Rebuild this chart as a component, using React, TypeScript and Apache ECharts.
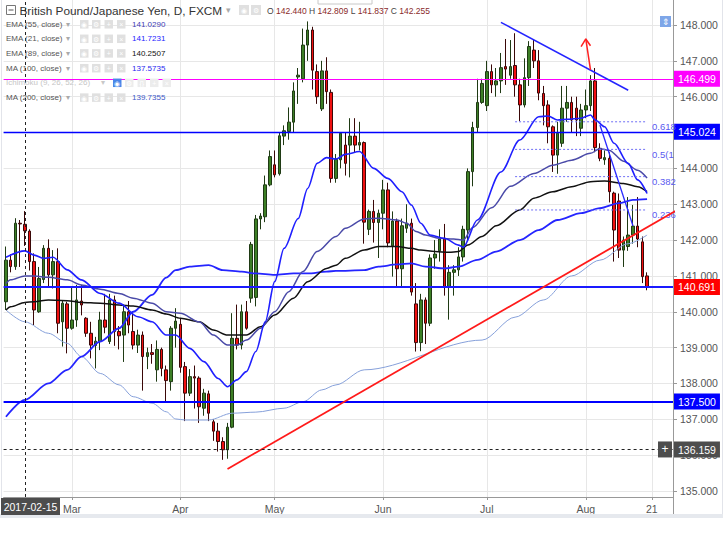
import React, { useEffect, useRef } from "react";
import * as echarts from "echarts";

const FONT = "'Liberation Sans', Arial, Helvetica, sans-serif";

function tradingDays(from: string, to: string): string[] {
  const out: string[] = [];
  const d = new Date(from + "T00:00:00Z");
  const end = new Date(to + "T00:00:00Z");
  while (d <= end) {
    const w = d.getUTCDay();
    if (w !== 0 && w !== 6) out.push(d.toISOString().slice(0, 10));
    d.setUTCDate(d.getUTCDate() + 1);
  }
  return out;
}

const categories = tradingDays("2017-02-09", "2017-08-25");

const opens = [
  140.28, 141.44, 141.26, 142.47, 142.44, 142.25, 141.4, 140.0, 140.9, 141.77,
  141.03, 141.4, 139.72, 140.22, 139.54, 139.77, 140.3, 139.82, 139.4, 139.06,
  139.17, 139.77, 139.17, 140.33, 139.45, 139.35, 140.0, 139.45, 139.07, 139.35,
  138.75, 138.86, 138.38, 138.95, 138.38, 138.05, 139.54, 139.65, 138.47, 137.73,
  138.19, 138.15, 137.31, 137.71, 136.93, 136.67, 136.38, 136.15, 136.78, 139.26,
  139.07, 140.0, 140.38, 140.4, 142.59, 142.65, 143.54, 144.1, 143.85, 144.9,
  145.03, 145.29, 146.55, 146.5, 147.44, 147.86, 146.7, 145.66, 146.72, 146.12,
  143.72, 144.24, 144.65, 144.65, 144.9, 144.65, 144.72, 142.3, 142.8, 142.49,
  142.75, 143.4, 141.84, 142.53, 141.2, 142.33, 142.47, 140.22, 139.14, 140.33,
  139.68, 141.5, 141.7, 142.03, 140.7, 141.1, 141.17, 141.53, 142.28, 143.91,
  145.14, 145.84, 145.75, 146.7, 146.33, 146.44, 146.84, 146.6, 146.87, 146.33,
  145.77, 146.53, 147.3, 147.0, 146.09, 145.77, 145.16, 144.37, 144.7, 145.68,
  145.84, 145.68, 145.12, 145.63, 145.75, 146.44, 144.56, 144.24, 144.28, 143.31,
  143.09, 141.72, 141.82, 142.14, 142.39, 141.95, 141.0,
];
const closes = [
  141.44, 141.26, 142.47, 142.45, 142.255, 141.4, 140.05, 140.93, 141.77, 141.03,
  141.4, 139.68, 140.24, 139.54, 139.77, 140.33, 140.19, 139.4, 139.07, 139.18,
  139.77, 139.57, 140.33, 139.45, 139.33, 140.0, 139.63, 139.07, 139.35, 138.75,
  138.86, 138.81, 138.95, 138.42, 138.08, 139.54, 139.74, 138.45, 137.73, 138.19,
  138.15, 137.35, 137.73, 137.17, 136.67, 136.38, 136.15, 136.78, 139.26, 139.07,
  140.0, 139.54, 141.88, 142.59, 142.67, 143.54, 144.33, 143.82, 144.91, 145.05,
  145.29, 146.16, 146.6, 147.44, 147.86, 146.74, 146.0, 146.72, 146.14, 143.72,
  144.25, 144.98, 144.14, 144.9, 144.65, 144.72, 142.5, 142.8, 142.49, 142.75,
  143.4, 141.92, 142.53, 141.2, 142.4, 142.47, 140.55, 139.14, 140.33, 139.68,
  141.5, 141.61, 142.03, 140.7, 141.1, 141.17, 141.53, 142.3, 143.91, 145.14,
  145.84, 146.37, 146.7, 146.33, 146.44, 146.81, 146.77, 146.84, 146.33, 145.77,
  146.53, 147.4, 147.0, 146.1, 145.75, 145.16, 144.37, 144.98, 145.68, 145.84,
  145.35, 145.35, 145.63, 145.75, 146.44, 144.58, 144.28, 144.3, 143.35, 142.28,
  141.72, 142.0, 142.14, 142.39, 142.03, 140.98, 140.69,
];
const lows = [
  140.05, 141.1, 141.17, 141.25, 141.837, 141.15, 139.63, 139.97, 140.8, 140.7,
  140.65, 139.4, 139.03, 138.84, 139.5, 139.58, 139.9, 139.3, 138.7, 138.42,
  138.93, 139.4, 139.1, 139.05, 138.95, 138.6, 139.4, 138.95, 138.85, 137.8,
  138.4, 138.55, 138.05, 138.2, 137.5, 137.8, 139.0, 138.3, 136.95, 137.65,
  137.3, 136.9, 137.1, 136.95, 136.4, 136.1, 135.87, 135.9, 136.75, 138.95,
  138.95, 139.5, 140.25, 140.15, 142.3, 142.5, 143.5, 143.75, 143.8, 144.65,
  144.8, 145.0, 145.8, 146.4, 147.0, 146.2, 145.8, 145.6, 145.8, 143.6,
  143.6, 144.0, 143.8, 143.75, 144.45, 144.5, 141.9, 142.14, 141.93, 141.5,
  142.3, 141.8, 140.98, 140.7, 140.7, 142.2, 140.45, 138.89, 138.9, 139.1,
  139.6, 141.2, 141.4, 140.45, 139.78, 140.45, 141.0, 141.4, 142.0, 143.5,
  145.0, 145.8, 145.6, 146.1, 146.0, 146.1, 146.33, 146.5, 146.0, 145.32,
  145.7, 146.3, 146.8, 145.9, 145.2, 144.7, 143.9, 143.85, 144.6, 145.3,
  145.0, 144.9, 144.9, 145.4, 145.6, 144.45, 144.2, 144.1, 143.05, 141.4,
  141.5, 141.25, 141.7, 141.9, 141.8, 140.8, 140.6,
];
const highs = [
  141.82, 141.6, 142.61, 142.56, 142.809, 142.3, 141.63, 141.25, 141.86, 142.02,
  141.72, 141.77, 140.3, 140.28, 140.7, 140.75, 140.75, 139.85, 139.72, 139.3,
  140.0, 140.5, 140.5, 140.45, 139.6, 140.2, 140.3, 140.0, 139.5, 139.45,
  139.0, 139.1, 139.2, 139.0, 138.5, 139.6, 140.1, 139.8, 138.6, 138.4,
  138.5, 138.2, 137.85, 137.8, 137.0, 136.9, 136.5, 136.9, 139.96, 140.2,
  140.2, 140.3, 141.95, 142.7, 142.75, 143.8, 144.5, 144.5, 145.0, 145.2,
  145.7, 146.4, 146.8, 147.9, 148.1, 147.95, 146.9, 147.0, 147.1, 146.2,
  144.4, 145.0, 145.0, 145.4, 145.4, 145.3, 144.75, 142.85, 143.12, 142.85,
  143.68, 143.6, 142.8, 142.6, 142.6, 143.0, 142.6, 140.8, 140.5, 140.4,
  141.6, 142.0, 142.3, 142.45, 141.3, 141.3, 141.8, 142.4, 144.0, 145.3,
  146.5, 146.5, 147.0, 146.9, 146.8, 147.22, 147.61, 147.58, 147.77, 146.5,
  147.07, 147.55, 147.6, 147.3, 146.3, 145.9, 145.2, 145.3, 146.3, 146.3,
  146.0, 146.0, 145.8, 146.2, 146.6, 146.8, 144.7, 144.5, 144.45, 143.35,
  143.3, 142.1, 143.2, 142.98, 143.2, 142.1, 141.1,
];

// indicator curves: [category index, price]
const ema21 = [[0,141.52],[4,141.7],[6,141.58],[8,141.49],[10,141.52],[13,141.17],[16,140.89],[20,140.51],[24,140.24],[28,139.86],[31,139.72],[34,139.35],[36,139.35],[39,138.98],[42,138.61],[45,138.14],[47,137.91],[49,138.1],[51,138.33],[53,138.89],[55,139.72],[57,140.84],[59,141.77],[62,142.6],[64,143.44],[66,144.14],[68,144.3],[70,144.26],[72,144.39],[75,144.47],[78,144.0],[81,143.72],[84,143.35],[86,142.98],[88,142.47],[90,142.14],[93,142.05],[96,141.86],[97,141.8],[100,142.56],[105,143.9],[109,144.79],[113,145.44],[115,145.46],[117,145.35],[119,145.37],[122,145.4],[124,145.49],[125,145.35],[127,145.16],[129,144.7],[132,144.14],[134,143.68],[136,143.3]];
const ema55 = [[0,140.79],[1,140.89],[4,141.0],[6,141.0],[9,140.96],[13,140.89],[16,140.75],[20,140.63],[24,140.51],[27,140.38],[31,140.24],[34,140.0],[37,139.96],[41,139.72],[44,139.35],[47,139.07],[49,139.07],[51,139.21],[54,139.54],[57,140.0],[60,140.56],[63,141.12],[66,141.68],[70,142.1],[72,142.33],[76,142.59],[79,142.61],[83,142.56],[85,142.47],[87,142.24],[89,142.14],[92,142.05],[95,142.03],[97,142.0],[99,142.35],[103,142.9],[107,143.5],[112,143.86],[116,144.09],[120,144.23],[124,144.42],[126,144.55],[128,144.5],[131,144.2],[134,143.95],[136,143.73]];
const ema89 = [[0,140.05],[1,140.14],[4,140.26],[6,140.28],[9,140.33],[13,140.31],[16,140.26],[20,140.24],[24,140.19],[27,140.16],[31,140.05],[34,139.94],[37,139.82],[41,139.72],[44,139.49],[47,139.35],[51,139.35],[54,139.58],[57,139.91],[61,140.38],[64,140.84],[68,141.21],[70,141.3],[72,141.49],[76,141.72],[79,141.82],[83,141.82],[86,141.77],[88,141.72],[91,141.68],[94,141.66],[96,141.68],[98,141.86],[101,142.1],[104,142.4],[109,142.84],[112,143.17],[116,143.35],[120,143.49],[124,143.63],[127,143.65],[131,143.58],[134,143.49],[136,143.35]];
const ma100 = [[0,137.07],[4,137.54],[9,138.0],[13,138.38],[16,138.75],[20,139.17],[24,139.54],[27,140.0],[31,140.47],[34,140.95],[36,141.16],[39,141.26],[43,141.3],[46,141.16],[50,141.12],[53,141.07],[57,141.03],[61,141.07],[64,141.07],[68,141.12],[70,141.14],[76,141.16],[79,141.26],[83,141.32],[86,141.35],[89,141.26],[93,141.21],[96,141.26],[100,141.45],[104,141.68],[109,142.0],[113,142.28],[117,142.56],[122,142.75],[126,142.89],[130,143.03],[133,143.12],[136,143.14]];
const ma200 = [[0,140.05],[4,139.72],[9,139.4],[13,139.12],[16,138.75],[20,138.28],[24,137.96],[27,137.63],[31,137.45],[34,137.21],[36,137.01],[38,136.98],[43,136.98],[48,137.17],[53,137.2],[59,137.31],[63,137.49],[67,137.82],[70,137.96],[76,138.38],[101,139.21],[108,139.85],[114,140.33],[120,141.0],[126,141.44],[132,141.9],[136,142.14]];

// drawn objects
const redTrend = [[46.86, 135.615], [141.5, 142.81]];
const blueTrend = [[104.96, 148.075], [131.96, 146.18]];
const steepLine = [[125.96, 145.21], [132.8, 142.4]];
const arrowShaft = [[124.2, 146.745], [122.9, 147.61]];
const arrowHead = [[122.2, 147.395], [122.9, 147.61], [124.0, 147.42]];

const fibLevels = [145.3, 144.53, 143.77, 142.84];
const fibLabels = ["0.618", "0.5(1", "0.382", "0.236"];
const fibFrom = 108;
const fibTo = 135.5;

const yTickValues = [135, 136, 137, 138, 139, 140, 141, 142, 143, 144, 145, 146, 147, 148];
const monthTickDates = ["2017-03-01", "2017-04-03", "2017-05-01", "2017-06-01", "2017-07-03", "2017-08-01", "2017-08-21"];
const monthTickLabels = ["Mar", "Apr", "May", "Jun", "Jul", "Aug", "21"];

const levelValues = [146.499, 145.024, 140.691, 137.5];
const levelColors = ["#ff00ff", "#0000ff", "#1a1aff", "#0000ff"];
const levelWidths = [1, 1.3, 2, 2];
const crosshairPrice = 136.159;
const crosshairDate = "2017-02-15";

const priceBoxValues = [146.499, 145.024, 140.691, 137.5, 136.159];
const priceBoxKinds = ["m", "b", "r", "b", "g"];

const legendNames = ["EMA (55, close)", "EMA (21, close)", "EMA (89, close)", "MA (100, close)", "Ichimoku (9, 26, 52, 26)", "MA (200, close)"];
const legendValues = ["141.0290", "141.7231", "140.2507", "137.5735", "", "139.7355"];
const legendColors = ["#3d3db5", "#1e1eff", "#111111", "#2828f0", "#c8c8c8", "#4058c8"];
const titleText = "British Pound/Japanese Yen, D, FXCM";
const ohlcLabels = ["O", "H", "L", "C"];
const ohlcValues = ["142.440", "142.809", "141.837", "142.255"];

const Y_MIN = 134.8326;
const Y_MAX = 148.6974;

export default function App() {
  const ref = useRef<HTMLDivElement>(null);
  useEffect(() => {
    const el = ref.current!;
    const chart = echarts.init(el, null, { renderer: "svg" });
    const tickIdx = new Map<number, string>();
    monthTickDates.forEach((d, k) => tickIdx.set(categories.indexOf(d), monthTickLabels[k]));

    const candleData = opens.map((o, i) => [o, closes[i], lows[i], highs[i]]);

    const lineSeries = (data: number[][], color: string, width: number, z = 3, type: any = "solid", smooth: any = 0.3) => ({
      type: "line",
      data,
      z,
      smooth,
      smoothMonotone: "x",
      showSymbol: false,
      symbol: "none",
      silent: true,
      lineStyle: { color, width, type },
    });

    const option: any = {
      animation: false,
      grid: { left: 3.6, right: 52, top: 0, bottom: 46 },
      xAxis: {
        type: "category",
        data: categories,
        boundaryGap: true,
        axisLine: { lineStyle: { color: "#999" } },
        axisTick: {
          show: true,
          alignWithLabel: true,
          interval: (i: number) => tickIdx.has(i),
          length: 3,
          lineStyle: { color: "#999" },
        },
        axisLabel: {
          interval: (i: number) => tickIdx.has(i),
          formatter: (_v: string, i: number) => tickIdx.get(i) || "",
          color: "#555",
          fontSize: 10.5,
          fontFamily: FONT,
          margin: 6,
        },
        splitLine: { show: false },
      },
      yAxis: [
        {
          type: "value",
          position: "right",
          min: Y_MIN,
          max: Y_MAX,
          axisLine: { show: true, lineStyle: { color: "#999" } },
          axisTick: { show: true, customValues: yTickValues, length: 4, lineStyle: { color: "#999" } },
          axisLabel: {
            customValues: yTickValues,
            formatter: (v: number) => v.toFixed(3),
            color: "#555",
            fontSize: 10.5,
            fontFamily: FONT,
            margin: 7,
          },
          splitLine: { show: false },
        },
        {
          type: "value",
          position: "right",
          min: Y_MIN,
          max: Y_MAX,
          axisLine: { show: false },
          axisTick: { show: false },
          splitLine: { show: false },
          axisLabel: {
            customValues: priceBoxValues,
            margin: 1,
            formatter: (v: number) => {
              const k = priceBoxValues.findIndex((b) => Math.abs(b - v) < 1e-3);
              return `{${priceBoxKinds[k] || "b"}|${v.toFixed(3)}}`;
            },
            rich: {
              m: { backgroundColor: "#ff00ff", color: "#fff", padding: [3, 4, 2, 4], fontSize: 10.5, fontFamily: FONT },
              b: { backgroundColor: "#0000ff", color: "#fff", padding: [3, 4, 2, 4], fontSize: 10.5, fontFamily: FONT },
              r: { backgroundColor: "#ff0000", color: "#fff", padding: [3, 4, 2, 4], fontSize: 10.5, fontFamily: FONT },
              g: { backgroundColor: "#4d4d4d", color: "#fff", padding: [3, 4, 2, 4], fontSize: 10.5, fontFamily: FONT },
            },
          },
        },
      ],
      series: [
        {
          type: "line",
          data: [],
          z: 0,
          silent: true,
          markLine: {
            silent: true,
            z: 0,
            symbol: ["none", "none"],
            label: { show: false },
            lineStyle: { color: "#e7e7e7", width: 1, type: "solid" },
            data: [
              ...yTickValues.map((v) => ({ yAxis: v })),
              ...monthTickDates.map((d) => ({ xAxis: d })),
            ],
          },
        },
        {
          type: "candlestick",
          data: candleData,
          z: 2,
          barWidth: 3,
          silent: true,
          itemStyle: {
            color: "#3d7f26",
            color0: "#f01010",
            borderColor: "#1f3a14",
            borderColor0: "#3a0808",
            borderWidth: 1,
          },
        },
        lineSeries(ma200, "#86a0da", 1),
        lineSeries(ma100, "#2525ff", 1.8),
        lineSeries(ema89, "#111111", 1.5),
        lineSeries(ema55, "#4a4aa8", 1.5),
        lineSeries(ema21, "#1f1fff", 1.6),
        ...fibLevels.map((v) => lineSeries([[fibFrom, v], [fibTo, v]], "#6f6ff5", 1, 4, [2, 2], false)),
        {
          type: "line",
          data: [],
          z: 4,
          silent: true,
          markLine: {
            silent: true,
            z: 4,
            symbol: ["none", "none"],
            label: { show: false },
            data: levelValues.map((v, k) => ({
              yAxis: v,
              lineStyle: { color: levelColors[k], width: levelWidths[k], type: "solid" },
            })),
          },
        },
        lineSeries(redTrend, "#ff1a1a", 1.8, 6, "solid", false),
        lineSeries(blueTrend, "#2424ff", 1.5, 6, "solid", false),
        lineSeries(steepLine, "#2a2aff", 1.3, 6, "solid", false),
        lineSeries(arrowShaft, "#ff2020", 1.5, 6, "solid", false),
        lineSeries(arrowHead, "#ff2020", 1.5, 6, "solid", false),
        {
          type: "line",
          data: [],
          z: 10,
          silent: true,
          markLine: {
            silent: true,
            z: 10,
            symbol: ["none", "none"],
            label: { show: false },
            lineStyle: { color: "#222", width: 1, type: [3, 3] },
            data: [{ yAxis: crosshairPrice }, { xAxis: crosshairDate }],
          },
        },
      ],
    };
    chart.setOption(option);

    const px = (i: number, v: number) => chart.convertToPixel({ gridIndex: 0 }, [i, v]) as number[];
    const g: any[] = [];
    const T = (x: number, y: number, text: string, fill: string, size: number, z = 100, align = "left") => ({
      type: "text", z, x, y, silent: true,
      style: { text, fill, fontSize: size, fontFamily: FONT, align, verticalAlign: "middle" },
    });
    const R = (x: number, y: number, w: number, h: number, fill: string, stroke?: string, z = 100) => ({
      type: "rect", z, silent: true, shape: { x, y, width: w, height: h },
      style: { fill, stroke: stroke || "none", lineWidth: stroke ? 1 : 0 },
    });
    const icon = (x: number, y: number, fill: string, glyph: string, size = 8.5) => [
      R(x, y - size / 2, size, size, fill),
      T(x + size / 2, y + 0.5, glyph, "#fff", 7, 101, "center"),
    ];

    // borders / frame
    g.push({ type: "line", z: 1, silent: true, shape: { x1: 1.5, y1: 0, x2: 1.5, y2: 517 }, style: { stroke: "#e2e4ea", lineWidth: 1 } });
    g.push({ type: "line", z: 1, silent: true, shape: { x1: 722.5, y1: 0, x2: 722.5, y2: 517 }, style: { stroke: "#e2e4ea", lineWidth: 1 } });
    g.push({ type: "line", z: 1, silent: true, shape: { x1: 673.5, y1: 497, x2: 673.5, y2: 514 }, style: { stroke: "#999", lineWidth: 1 } });
    g.push(R(0, 514, 723, 4, "#e6e9ee", undefined, 1));

    // title row
    g.push(R(318, -6, 54, 10, "#fff", "#c8c8c8"));
    g.push(R(6.5, 5.5, 9, 9, "#fff", "#777"));
    g.push({ type: "line", z: 101, silent: true, shape: { x1: 8.5, y1: 10, x2: 13.5, y2: 10 }, style: { stroke: "#555", lineWidth: 1 } });
    g.push(T(19.5, 10.5, titleText, "#333", 11.8));
    g.push(T(226, 10, "▾", "#aaa", 9));
    g.push(...icon(239, 10, "#e0e0e0", "◉", 10));
    g.push(...icon(251, 10, "#e0e0e0", "⚙", 10));
    g.push({
      type: "text", z: 100, x: 267, y: 10.5, silent: true,
      style: {
        text: ohlcLabels.map((l, k) => `{l|${l}} {v|${ohlcValues[k]}}`).join(" "),
        verticalAlign: "middle",
        fontSize: 8.5,
        fontFamily: FONT,
        rich: {
          l: { fill: "#444", fontSize: 8.5, fontFamily: FONT },
          v: { fill: "#8a2a2a", fontSize: 8.5, fontFamily: FONT },
        },
      },
    });
    // top-right icon
    g.push(R(660, 16, 11, 11, "#7ea6e8"));
    g.push(T(665.5, 21.5, "⇕", "#fff", 9, 101, "center"));

    // legend rows
    const rowY = [24.3, 38.8, 53.4, 68.2, 82.8, 97.6];
    legendNames.forEach((name, k) => {
      const y = rowY[k];
      const isIchi = k === 4;
      g.push(T(6, y, name, isIchi ? "#c6c6c6" : "#555", 8));
      if (isIchi) {
        g.push(T(101, y, "▾", "#c8c8c8", 8));
        g.push(...icon(113, y, "#4a87e8", "◉"));
        g.push(...icon(125, y, "#ececec", "⚙"));
        g.push(...icon(137.5, y, "#ececec", "{}"));
        g.push(...icon(150, y, "#ececec", "+"));
        g.push(...icon(162.5, y, "#ececec", "×"));
      } else {
        g.push(T(66, y, "▾", "#aaa", 8));
        g.push(...icon(80, y, "#e0e0e0", "◉"));
        g.push(...icon(92, y, "#e0e0e0", "⚙"));
        g.push(...icon(104.5, y, "#e0e0e0", "+"));
        g.push(...icon(117, y, "#e0e0e0", "×"));
        g.push(T(132, y, legendValues[k], legendColors[k], 8));
      }
    });

    // fib labels
    fibLevels.forEach((v, k) => {
      const p = px(fibTo, v);
      g.push(T(p[0] + 5, p[1] + 5, fibLabels[k], "#5a5af0", 9.5, 5));
    });

    // crosshair boxes
    const cp = px(0, crosshairPrice);
    g.push(R(658, cp[1] - 8, 14, 16, "#4d4d4d", undefined, 20));
    g.push(T(665, cp[1], "+", "#fff", 12, 21, "center"));
    g.push(R(1, 498, 59, 17, "#4d4d4d", undefined, 20));
    g.push(T(30.5, 506.5, crosshairDate, "#fff", 10.5, 21, "center"));

    chart.setOption({ graphic: g });
    return () => chart.dispose();
  }, []);

  return (
    <div
      ref={ref}
      style={{ position: "fixed", left: 0, top: 0, width: 725, height: 543, background: "#fff" }}
    />
  );
}
